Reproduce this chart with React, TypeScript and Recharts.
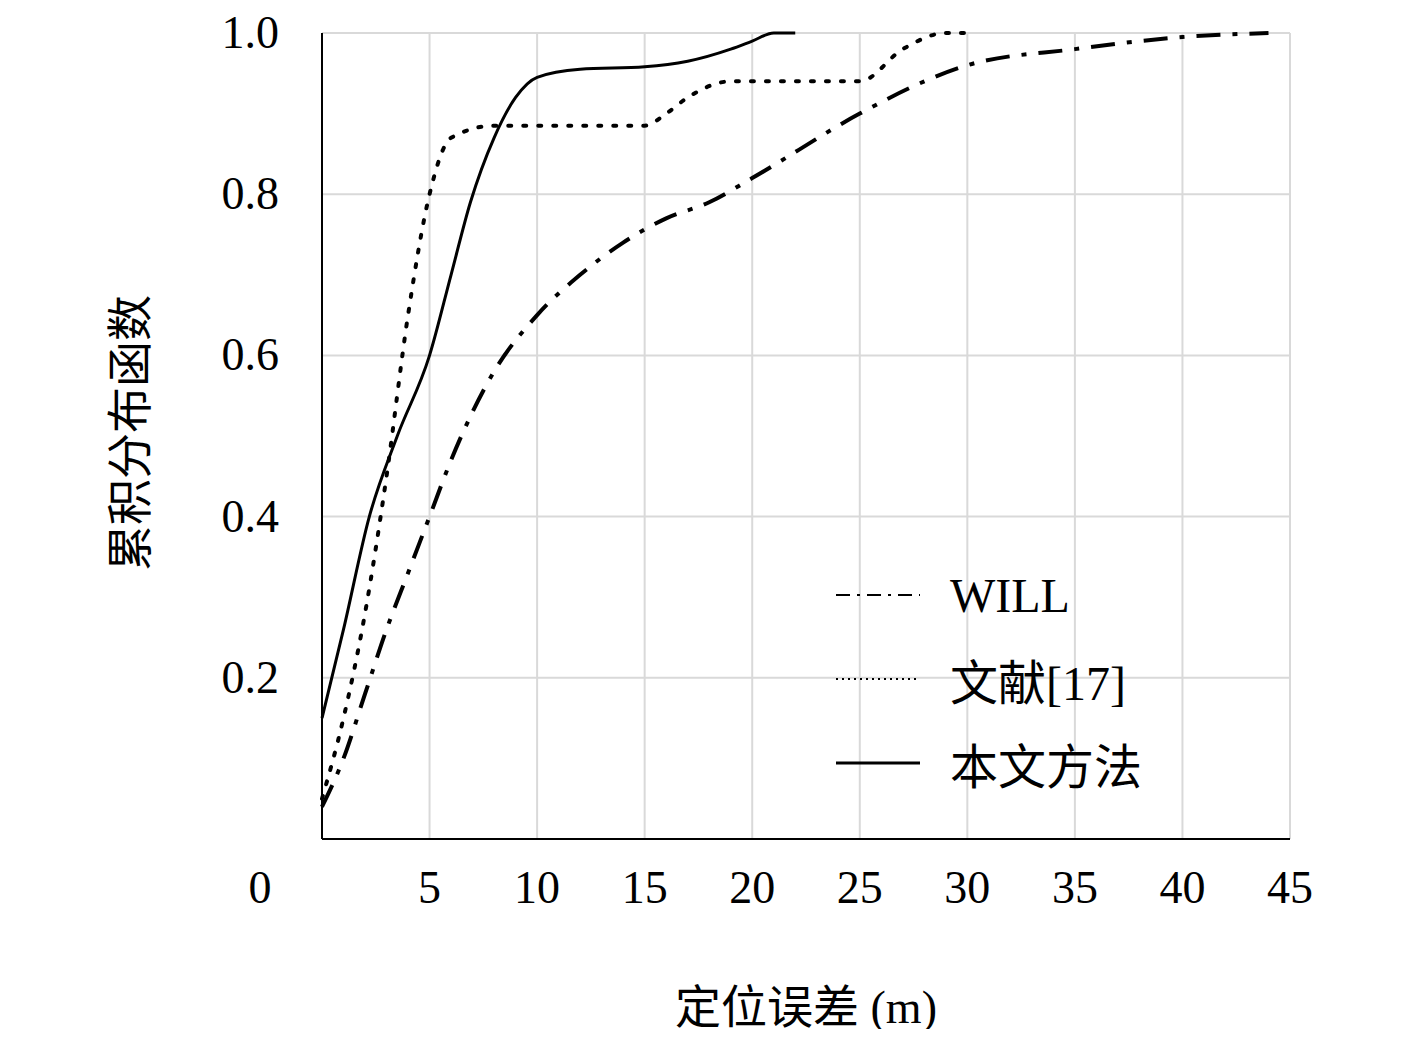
import { LineChart, Line, XAxis, YAxis, CartesianGrid } from 'recharts';

const xTicks = [0, 5, 10, 15, 20, 25, 30, 35, 40, 45];
const yTicks = [0, 0.2, 0.4, 0.6, 0.8, 1.0];

const oursX = [0, 1, 2.2, 3.5, 5, 6, 6.9, 8, 9, 10, 12, 15, 17, 19, 20, 21, 22];
const oursY = [0.15, 0.26, 0.4, 0.5, 0.6, 0.7, 0.79, 0.87, 0.92, 0.945, 0.955, 0.958, 0.965, 0.98, 0.99, 1.0, 1.0];

const refX = [0, 1, 2, 3, 4, 5, 6, 8, 10, 15, 16, 17, 19, 25, 27, 29, 30];
const refY = [0.05, 0.15, 0.28, 0.45, 0.65, 0.8, 0.87, 0.885, 0.885, 0.885, 0.9, 0.92, 0.94, 0.94, 0.98, 1.0, 1.0];

const willX = [0, 1, 2, 3, 4, 5, 6, 7, 8, 10, 12, 14, 16, 18, 20, 25, 28, 30, 35, 40, 44];
const willY = [0.04, 0.1, 0.18, 0.26, 0.33, 0.4, 0.47, 0.53, 0.58, 0.65, 0.7, 0.74, 0.77, 0.79, 0.82, 0.9, 0.94, 0.96, 0.98, 0.995, 1.0];

const toPts = (xs: number[], ys: number[]) => xs.map((x, i) => ({ x, y: ys[i] }));

const FONT = '"Liberation Serif", serif';
const CJK = '"Noto Sans CJK SC", sans-serif';

const legendItems = [
  { name: 'WILL', dash: '14 7 3 7', width: 2 },
  { name: '文献[17]', dash: '2 4', width: 2 },
  { name: '本文方法', dash: undefined, width: 3 },
];

function XTick(props: any) {
  const { x, y, payload } = props;
  const dx = payload.value === 0 ? -62 : 0;
  return (
    <text x={x + dx} y={y + 56} textAnchor="middle" fontSize={46} fontFamily={FONT} fill="#000">
      {payload.value}
    </text>
  );
}

function YTick(props: any) {
  const { x, y, payload } = props;
  if (payload.value === 0) return null;
  return (
    <text x={x - 35} y={y + 15} textAnchor="end" fontSize={46} fontFamily={FONT} fill="#000">
      {payload.value.toFixed(1)}
    </text>
  );
}

export default function App() {
  return (
    <div style={{ position: 'relative', width: 1401, height: 1021 }}>
      <LineChart width={1401} height={1021} margin={{ top: 25, right: 119, bottom: 90, left: 134 }}>
        <CartesianGrid stroke="#d9d9d9" strokeWidth={2} />
        <XAxis
          type="number"
          dataKey="x"
          domain={[0, 45]}
          ticks={xTicks}
          height={100}
          tick={<XTick />}
          tickLine={false}
          axisLine={{ stroke: '#000', strokeWidth: 2 }}
          allowDuplicatedCategory={false}
        />
        <YAxis
          type="number"
          domain={[0, 1]}
          ticks={yTicks}
          width={180}
          tick={<YTick />}
          tickLine={false}
          axisLine={{ stroke: '#000', strokeWidth: 2 }}
        />
        <Line data={toPts(willX, willY)} dataKey="y" type="monotone" stroke="#000" strokeWidth={4}
          strokeDasharray="24 12 5 12" dot={false} isAnimationActive={false} />
        <Line data={toPts(refX, refY)} dataKey="y" type="monotone" stroke="#000" strokeWidth={4}
          strokeDasharray="3 12" strokeLinecap="round" dot={false} isAnimationActive={false} />
        <Line data={toPts(oursX, oursY)} dataKey="y" type="monotone" stroke="#000" strokeWidth={3}
          dot={false} isAnimationActive={false} />
      </LineChart>
      <div style={{ position: 'absolute', left: 826, top: 555, display: 'flex', flexDirection: 'column', gap: 20 }}>
        {legendItems.map((it) => (
          <div key={it.name} style={{ display: 'flex', alignItems: 'center', height: 64 }}>
            <svg width={90} height={10} style={{ marginRight: 26 }}>
              <line x1={2} y1={5} x2={86} y2={5} stroke="#000" strokeWidth={it.width} strokeDasharray={it.dash} />
            </svg>
            <span style={{ fontSize: 48, fontFamily: it.name === 'WILL' ? FONT : `${FONT}, ${CJK}`, whiteSpace: 'nowrap' }}>{it.name}</span>
          </div>
        ))}
      </div>
      <div style={{ position: 'absolute', left: 118, top: 425, transform: 'translate(-50%,-50%) rotate(-90deg)', fontSize: 46, fontFamily: CJK, whiteSpace: 'nowrap' }}>
        累积分布函数
      </div>
      <div style={{ position: 'absolute', left: 798, top: 995, transform: 'translate(-50%,-50%)', fontSize: 46, fontFamily: `${FONT}, ${CJK}`, whiteSpace: 'nowrap' }}>
        定位误差 (m)
      </div>
    </div>
  );
}
